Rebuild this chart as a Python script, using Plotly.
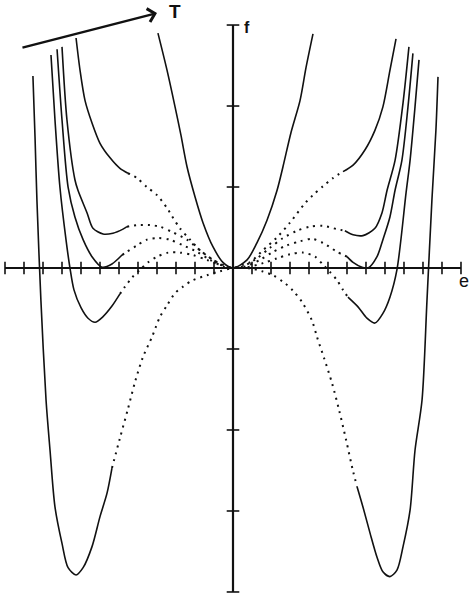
import plotly.graph_objects as go

# tick positions on the two axes
E_TICKS = [k for k in range(-12, 13) if k != 0]
F_TICKS = [k for k in range(-4, 4) if k != 0]

# curve 1 (highest T), solid everywhere
c1_e = [-3.95, -3.47, -3.05, -2.74, -2.42, -2.0, -1.58, -1.05, -0.53, 0.0,
        0.74, 1.26, 1.79, 2.32, 2.63, 3.05, 3.53, 3.84, 4.21]
c1_f = [2.90, 2.44, 1.99, 1.64, 1.25, 0.88, 0.56, 0.26, 0.07, 0.0,
        0.10, 0.31, 0.59, 0.96, 1.25, 1.67, 2.07, 2.47, 2.89]

# curve 2: solid outer branches, dotted middle
c2_ls_e = [-8.26, -8.05, -7.79, -7.42, -7.0, -6.47, -5.95, -5.53]
c2_ls_f = [2.84, 2.44, 2.07, 1.79, 1.54, 1.36, 1.23, 1.17]
c2_d_e = [-5.53, -5.05, -4.53, -4.0, -3.47, -3.21, -2.79, -2.26, -1.74, -1.05, -0.53, 0.0,
          0.53, 0.89, 1.58, 2.32, 3.0, 3.79, 4.21, 4.74, 5.26, 5.79]
c2_d_f = [1.17, 1.11, 1.0, 0.90, 0.74, 0.64, 0.49, 0.35, 0.22, 0.10, 0.04, 0.0,
          0.04, 0.07, 0.22, 0.38, 0.56, 0.80, 0.90, 1.01, 1.11, 1.19]
c2_rs_e = [5.79, 6.32, 6.95, 7.47, 7.89, 8.26, 8.58]
c2_rs_f = [1.19, 1.27, 1.46, 1.70, 1.99, 2.44, 2.83]

# curve 3: minimum above the axis
c3_ls_e = [-9.0, -8.74, -8.32, -8.16, -7.68, -7.37, -6.84, -6.32, -5.79, -5.58]
c3_ls_f = [2.73, 1.83, 1.09, 0.96, 0.68, 0.49, 0.42, 0.43, 0.48, 0.51]
c3_d_e = [-5.58, -5.05, -4.37, -3.84, -3.16, -2.42, -1.74, -1.05, -0.32, 0.0,
          0.53, 1.26, 1.95, 2.63, 3.37, 4.05, 4.74, 5.47, 5.89]
c3_d_f = [0.51, 0.53, 0.53, 0.51, 0.44, 0.35, 0.22, 0.10, 0.01, 0.0,
          0.02, 0.12, 0.25, 0.37, 0.46, 0.51, 0.52, 0.48, 0.46]
c3_rs_e = [5.89, 6.32, 6.84, 7.47, 7.84, 8.11, 8.53, 8.95, 9.26]
c3_rs_f = [0.46, 0.41, 0.40, 0.49, 0.68, 0.96, 1.33, 2.04, 2.73]

# curve 4: minimum touching the axis
c4_ls_e = [-9.26, -9.0, -8.68, -8.32, -7.89, -7.42, -6.89, -6.37, -5.84]
c4_ls_f = [2.70, 1.83, 1.0, 0.63, 0.35, 0.14, 0.01, 0.05, 0.16]
c4_d_e = [-5.84, -5.58, -5.05, -4.53, -3.95, -3.32, -2.63, -1.89, -1.21, -0.53, 0.0,
          0.53, 1.42, 2.11, 2.84, 3.53, 4.16, 4.74, 5.47, 6.0]
c4_d_f = [0.16, 0.20, 0.28, 0.35, 0.37, 0.35, 0.28, 0.20, 0.10, 0.02, 0.0,
          0.01, 0.10, 0.20, 0.28, 0.33, 0.36, 0.31, 0.20, 0.14]
c4_rs_e = [6.0, 6.32, 6.79, 7.11, 7.58, 7.89, 8.26, 8.53, 8.89, 9.21, 9.47]
c4_rs_f = [0.14, 0.07, 0.01, 0.0, 0.14, 0.35, 0.63, 0.96, 1.33, 1.99, 2.65]

# curve 5: shallow well below the axis
c5_ls_e = [-9.58, -9.37, -9.11, -8.79, -8.58, -8.37, -8.0, -7.63, -7.26, -6.84, -6.37, -5.95]
c5_ls_f = [2.63, 1.83, 1.0, 0.35, 0.0, -0.27, -0.49, -0.62, -0.67, -0.60, -0.47, -0.32]
c5_d_e = [-5.95, -5.68, -5.32, -4.89, -4.47, -4.0, -3.42, -2.79, -2.11, -1.37, -0.68, 0.0,
          0.74, 1.58, 2.32, 3.0, 3.68, 4.32, 4.74, 5.11, 5.47, 5.79, 6.05]
c5_d_f = [-0.32, -0.23, -0.12, -0.02, 0.07, 0.14, 0.19, 0.19, 0.16, 0.10, 0.04, 0.0,
          0.01, 0.06, 0.12, 0.17, 0.19, 0.14, 0.04, -0.05, -0.15, -0.27, -0.36]
c5_rs_e = [6.05, 6.58, 7.05, 7.47, 7.89, 8.26, 8.63, 9.11, 9.32, 9.58, 9.79]
c5_rs_f = [-0.36, -0.48, -0.62, -0.68, -0.56, -0.36, -0.02, 0.93, 1.33, 1.99, 2.57]

# curve 6 (lowest T): deep well
c6_ls_e = [-10.53, -10.42, -10.32, -10.11, -9.84, -9.63, -9.37, -9.0, -8.68, -8.26,
           -7.89, -7.42, -7.0, -6.63, -6.37]
c6_ls_f = [2.37, 1.62, 0.84, -0.40, -1.63, -2.25, -2.95, -3.40, -3.70, -3.79,
           -3.70, -3.44, -3.07, -2.78, -2.47]
c6_d_e = [-6.37, -5.95, -5.53, -5.16, -4.74, -4.26, -3.84, -3.47, -3.05, -2.63, -2.11, -1.37, -0.68, 0.0,
          0.74, 1.53, 2.11, 2.74, 3.16, 3.63, 4.16, 4.42, 4.79, 5.21, 5.58, 5.95, 6.32, 6.53]
c6_d_f = [-2.47, -2.10, -1.74, -1.41, -1.10, -0.85, -0.60, -0.46, -0.31, -0.23, -0.15, -0.09, -0.04, 0.0,
          0.0, -0.04, -0.09, -0.19, -0.28, -0.42, -0.65, -0.85, -1.11, -1.42, -1.75, -2.12, -2.51, -2.70]
c6_rs_e = [6.53, 6.84, 7.21, 7.58, 7.89, 8.26, 8.63, 8.95, 9.32, 9.58, 9.95, 10.21, 10.47, 10.68, 10.79]
c6_rs_f = [-2.70, -2.95, -3.27, -3.57, -3.75, -3.81, -3.73, -3.44, -2.99, -2.25, -1.63, -0.40, 0.84, 1.70, 2.36]

INK = "#111111"

fig = go.Figure()


def solid(e, f):
    fig.add_trace(go.Scatter(x=e, y=f, mode="lines",
                             line=dict(color=INK, width=1.6, shape="spline", smoothing=0.8),
                             hoverinfo="skip"))


def dotted(e, f):
    fig.add_trace(go.Scatter(x=e, y=f, mode="lines",
                             line=dict(color=INK, width=2, dash="2px,5px", shape="spline", smoothing=0.8),
                             hoverinfo="skip"))


# axes through the origin
fig.add_trace(go.Scatter(x=[E_TICKS[0], E_TICKS[-1]], y=[0, 0], mode="lines",
                         line=dict(color=INK, width=2.2), hoverinfo="skip"))
fig.add_trace(go.Scatter(x=[0, 0], y=[F_TICKS[0], F_TICKS[-1]], mode="lines",
                         line=dict(color=INK, width=2.2), hoverinfo="skip"))
fig.add_trace(go.Scatter(x=E_TICKS, y=[0] * len(E_TICKS), mode="markers",
                         marker=dict(symbol="line-ns", size=9, line=dict(color=INK, width=1.6)),
                         hoverinfo="skip"))
fig.add_trace(go.Scatter(x=[0] * len(F_TICKS), y=F_TICKS, mode="markers",
                         marker=dict(symbol="line-ew", size=9, line=dict(color=INK, width=1.6)),
                         hoverinfo="skip"))

solid(c1_e, c1_f)
for ls_e, ls_f, d_e, d_f, rs_e, rs_f in [
    (c2_ls_e, c2_ls_f, c2_d_e, c2_d_f, c2_rs_e, c2_rs_f),
    (c3_ls_e, c3_ls_f, c3_d_e, c3_d_f, c3_rs_e, c3_rs_f),
    (c4_ls_e, c4_ls_f, c4_d_e, c4_d_f, c4_rs_e, c4_rs_f),
    (c5_ls_e, c5_ls_f, c5_d_e, c5_d_f, c5_rs_e, c5_rs_f),
    (c6_ls_e, c6_ls_f, c6_d_e, c6_d_f, c6_rs_e, c6_rs_f),
]:
    solid(ls_e, ls_f)
    dotted(d_e, d_f)
    solid(rs_e, rs_f)

# temperature arrow and axis letters
fig.add_annotation(x=-4.0, y=3.148, ax=-11.16, ay=2.716, xref="x", yref="y",
                   axref="x", ayref="y", text="", showarrow=True,
                   arrowhead=4, arrowsize=1.1, arrowwidth=2.4, arrowcolor=INK)
fig.add_annotation(x=-3.05, y=3.17, text="<b>T</b>", showarrow=False,
                   font=dict(family="Liberation Sans, Arial", size=19, color=INK))
fig.add_annotation(x=0.74, y=2.975, text="<b>f</b>", showarrow=False,
                   font=dict(family="Liberation Sans, Arial", size=16, color=INK))
fig.add_annotation(x=12.15, y=-0.16, text="e", showarrow=False,
                   font=dict(family="Liberation Sans, Arial", size=18, color=INK))

fig.update_layout(
    width=470, height=597, autosize=False,
    margin=dict(l=0, r=0, t=0, b=0),
    plot_bgcolor="white", paper_bgcolor="white",
    showlegend=False,
    xaxis=dict(range=[-12.263, 12.474], visible=False, fixedrange=True),
    yaxis=dict(range=[-4.062, 3.309], visible=False, fixedrange=True),
)

# drop the page's default body margin so the figure sits at the window corner
fig.write_html("out.html", config={"displayModeBar": False},
               post_script="document.body.style.margin='0';")
